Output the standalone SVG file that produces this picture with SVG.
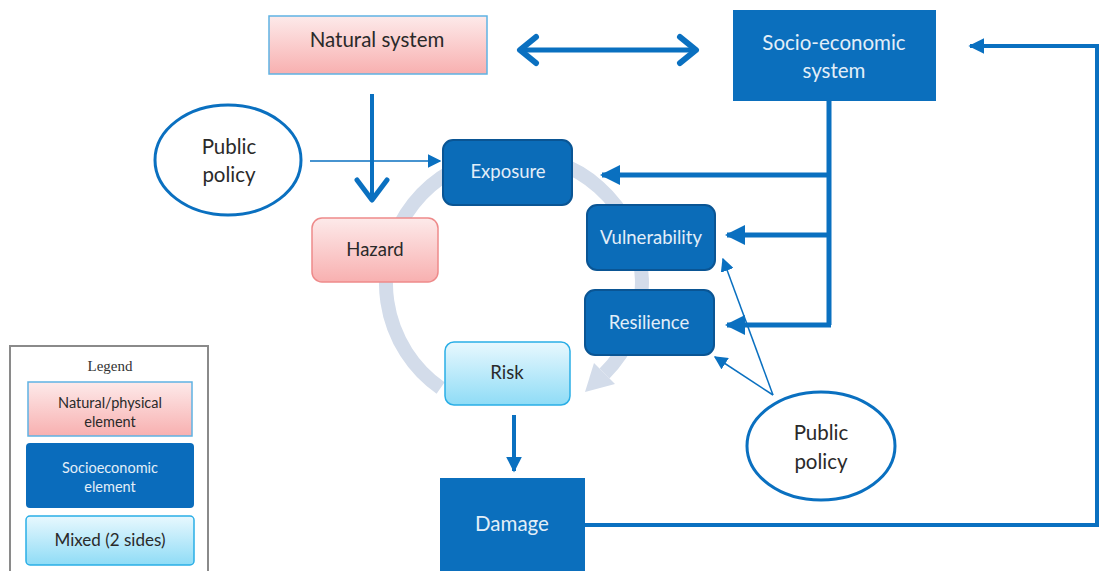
<svg xmlns="http://www.w3.org/2000/svg" width="1099" height="571" viewBox="0 0 1099 571">
<defs>
<linearGradient id="pink" x1="0" y1="0" x2="0" y2="1"><stop offset="0" stop-color="#fdeaea"/><stop offset="1" stop-color="#f8b0b0"/></linearGradient>
<linearGradient id="cyan" x1="0" y1="0" x2="0" y2="1"><stop offset="0" stop-color="#e8f8fe"/><stop offset="1" stop-color="#8fdcf6"/></linearGradient>
<marker id="ah" viewBox="0 0 10 10" refX="9" refY="5" markerWidth="4" markerHeight="4" orient="auto" markerUnits="strokeWidth"><path d="M0,0 L10,5 L0,10 Z" fill="#0a70c0"/></marker>
<marker id="ahs" viewBox="0 0 10 10" refX="9" refY="5" markerWidth="9" markerHeight="9" orient="auto" markerUnits="strokeWidth"><path d="M0,0 L10,5 L0,10 Z" fill="#0a70c0"/></marker>
</defs>
<style>
.t{font-family:Lato,"Open Sans","Liberation Sans",sans-serif;text-anchor:middle}
.dk{fill:#0b6cb8;stroke:#0a5594;stroke-width:2}
.sq{fill:#0b6fbd}
.lt{fill:#e2eef8}
.bk{fill:#2a2a2a}
.pk{fill:url(#pink);stroke:#ee8a8a;stroke-width:1.5}
.cy{fill:url(#cyan);stroke:#2aaee6;stroke-width:1.5}
.ln{stroke:#0a70c0;fill:none}
</style>
<rect width="1099" height="571" fill="#ffffff"/>

<g id="cycle">
<path d="M 440.6 387.9 A 128 128 0 1 1 604.5 373.5" fill="none" stroke="#d3dcea" stroke-width="14"/>
<polygon points="615,384 594,363 585,392" fill="#d3dcea"/>
</g>

<g id="connectors">
<line class="ln" x1="521" y1="50" x2="694" y2="50" stroke-width="5"/>
<polyline class="ln" points="536,37 520,50 536,63" stroke-width="6" stroke-linecap="round" stroke-linejoin="round"/>
<polyline class="ln" points="680,37 696,50 680,63" stroke-width="6" stroke-linecap="round" stroke-linejoin="round"/>
<line class="ln" x1="372" y1="94" x2="372" y2="200" stroke-width="4"/>
<polyline class="ln" points="357,180 372,200 387,180" stroke-width="5" stroke-linecap="round" stroke-linejoin="round"/>
<line class="ln" x1="310" y1="161" x2="440" y2="161" stroke-width="1.5" marker-end="url(#ahs)"/>
<path class="ln" d="M829,101 V325" stroke-width="5"/>
<line class="ln" x1="831" y1="175" x2="602" y2="175" stroke-width="5" marker-end="url(#ah)"/>
<line class="ln" x1="831" y1="235" x2="727" y2="235" stroke-width="5" marker-end="url(#ah)"/>
<line class="ln" x1="831" y1="325" x2="727" y2="325" stroke-width="5" marker-end="url(#ah)"/>
<line class="ln" x1="773" y1="395" x2="723" y2="259" stroke-width="1.5" marker-end="url(#ahs)"/>
<line class="ln" x1="773" y1="395" x2="715" y2="357" stroke-width="1.5" marker-end="url(#ahs)"/>
<line class="ln" x1="514" y1="415" x2="514" y2="471" stroke-width="4" marker-end="url(#ah)"/>
<polyline class="ln" points="585,525 1097,525 1097,46 970,46" stroke-width="4" marker-end="url(#ah)"/>
</g>

<g id="natural-system"><rect x="269" y="16" width="218" height="58" fill="url(#pink)" stroke="#5fb3e3" stroke-width="1.5"/><text class="t bk" x="377" y="47" font-size="20.5">Natural system</text></g>
<g id="socio-economic-system"><rect class="sq" x="733" y="10" width="203" height="91"/><text class="t lt" x="834" y="50" font-size="20.5">Socio-economic</text><text class="t lt" x="834" y="78" font-size="20.5">system</text></g>
<g id="public-policy-left"><ellipse cx="228" cy="160" rx="73" ry="55" fill="#fff" stroke="#0a70c0" stroke-width="3"/><text class="t bk" x="229" y="154" font-size="20.5">Public</text><text class="t bk" x="229" y="182" font-size="20.5">policy</text></g>
<g id="exposure"><rect class="dk" x="443" y="140" width="129" height="65" rx="10"/><text class="t lt" x="508" y="178" font-size="18.5">Exposure</text></g>
<g id="hazard"><rect class="pk" x="312" y="218" width="126" height="64" rx="10"/><text class="t bk" x="375" y="256" font-size="18.5">Hazard</text></g>
<g id="vulnerability"><rect class="dk" x="587" y="205" width="128" height="65" rx="10"/><text class="t lt" x="651" y="244" font-size="18.5">Vulnerability</text></g>
<g id="resilience"><rect class="dk" x="585" y="290" width="129" height="65" rx="10"/><text class="t lt" x="649" y="329" font-size="18.5">Resilience</text></g>
<g id="risk"><rect class="cy" x="445" y="342" width="125" height="63" rx="9"/><text class="t bk" x="507" y="379" font-size="18.5">Risk</text></g>
<g id="damage"><rect class="sq" x="440" y="478" width="145" height="95"/><text class="t lt" x="512" y="531" font-size="20.5">Damage</text></g>
<g id="public-policy-right"><ellipse cx="821" cy="446" rx="74" ry="54" fill="#fff" stroke="#0a70c0" stroke-width="3"/><text class="t bk" x="821" y="440" font-size="20.5">Public</text><text class="t bk" x="821" y="469" font-size="20.5">policy</text></g>

<g id="legend">
<rect x="10" y="346" width="198" height="228" fill="#fff" stroke="#8a8a8a" stroke-width="2"/>
<text x="110" y="371" font-size="15" text-anchor="middle" font-family="Liberation Serif,serif" fill="#333">Legend</text>
<rect x="28" y="382" width="164" height="54" fill="url(#pink)" stroke="#5fb3e3" stroke-width="1.5"/>
<text class="t bk" x="110" y="408" font-size="14.5">Natural/physical</text><text class="t bk" x="110" y="427" font-size="14.5">element</text>
<rect x="26" y="443" width="168" height="65" rx="4" fill="#0a6cbc"/>
<text class="t lt" x="110" y="473" font-size="14.5">Socioeconomic</text><text class="t lt" x="110" y="492" font-size="14.5">element</text>
<rect class="cy" x="26" y="516" width="168" height="49" rx="4"/>
<text class="t bk" x="110" y="546" font-size="17">Mixed (2 sides)</text>
</g>
</svg>
